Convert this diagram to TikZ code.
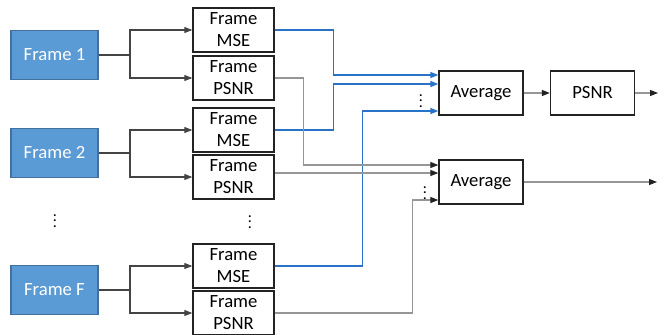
\documentclass[tikz,border=0pt]{standalone}
\usepackage{fontspec}
\setmainfont{Carlito}
\usetikzlibrary{arrows.meta,calc}
\definecolor{frameblue}{RGB}{91,155,213}
\definecolor{frameedge}{RGB}{65,113,156}
\definecolor{wireblue}{RGB}{40,115,200}
\definecolor{wiregray}{RGB}{150,150,150}
\definecolor{ink}{RGB}{35,35,35}
\tikzset{
  >={Triangle[length=6pt,width=4.5pt]},
  src/.style={draw=frameedge,fill=frameblue,text=white,line width=0.9pt,inner sep=0pt,
    minimum width=65.25pt,minimum height=36.75pt,font=\fontsize{14}{16.5}\selectfont},
  metric/.style={draw=ink,fill=white,line width=1pt,inner sep=0pt,align=center,
    minimum width=60.75pt,minimum height=33pt,font=\fontsize{14}{16.5}\selectfont},
  stage/.style={draw=ink,fill=white,line width=1pt,inner sep=0pt,
    minimum width=63pt,minimum height=33pt,font=\fontsize{14}{16.5}\selectfont},
  wire/.style={draw=ink!85,line width=0.8pt},
  msewire/.style={draw=wireblue,line width=1pt,-{Triangle[length=6pt,width=4.5pt,color=wireblue]}},
  psnrwire/.style={draw=wiregray,line width=0.9pt,-{Triangle[length=6pt,width=4.5pt,color=ink]}},
  dots/.style={font=\fontsize{12}{14}\selectfont,inner sep=0pt},
}
\begin{document}
\begin{tikzpicture}[x=0.75pt,y=-0.75pt]
  \useasboundingbox (0,0) rectangle (670,335);
  % frames and their per-frame measures
  \foreach \n/\t/\y/\m/\p in {1/Frame 1/55/30/78, 2/Frame 2/153/130/177, 3/Frame F/290/266/313}
  {
    \node[src] (f\n) at (54.5,\y) {\t};
    \node[metric] (m\n) at (233.5,\m) {Frame\\MSE};
    \node[metric] (p\n) at (233.5,\p) {Frame\\PSNR};
    \coordinate (s\n) at (130,\y);
    \draw[wire] (f\n.east) -- (s\n);
    \draw[wire,->] (s\n) |- (m\n);
    \draw[wire,->] (s\n) |- (p\n);
  }
  \node[dots] (fdots) at (55,217) {$\vdots$};
  \node[dots] (mdots) at (250,218) {$\vdots$};

  \node[stage] (avg1) at (481,93) {Average};
  \node[stage] (psnr) at (592.5,93) {PSNR};
  \node[stage] (avg2) at (481,182) {Average};
  \coordinate (out1) at (658,93);
  \coordinate (out2) at (657,182);
  \node[dots] (adots1) at (421,97) {$\vdots$};
  \node[dots] (adots2) at (425,189) {$\vdots$};

  \coordinate (in1) at ($(avg1.west)+(0,-18)$);
  \coordinate (in2) at ($(avg1.west)+(0,-9)$);
  \coordinate (in3) at ($(avg1.west)+(0,18)$);
  \coordinate (in4) at ($(avg2.west)+(0,-17)$);
  \coordinate (in5) at ($(avg2.west)+(0,-9)$);
  \coordinate (in6) at ($(avg2.west)+(0,18)$);

  % MSE into the first average
  \draw[msewire] (m1.east) -- ++(59,0) |- (in1);
  \draw[msewire] (m2.east) -- ++(59,0) |- (in2);
  \draw[msewire] (m3.east) -- ++(88,0) |- (in3);
  % PSNR into the second average
  \draw[psnrwire] (p1.east) -- ++(29,0) |- (in4);
  \draw[psnrwire] (p2.east |- in5) -- (in5);
  \draw[psnrwire] (p3.east) -- ++(138,0) |- (in6);

  \draw[psnrwire] (avg1) -- (psnr);
  \draw[psnrwire] (psnr) -- (out1);
  \draw[psnrwire] (avg2) -- (out2);
\end{tikzpicture}
\end{document}
